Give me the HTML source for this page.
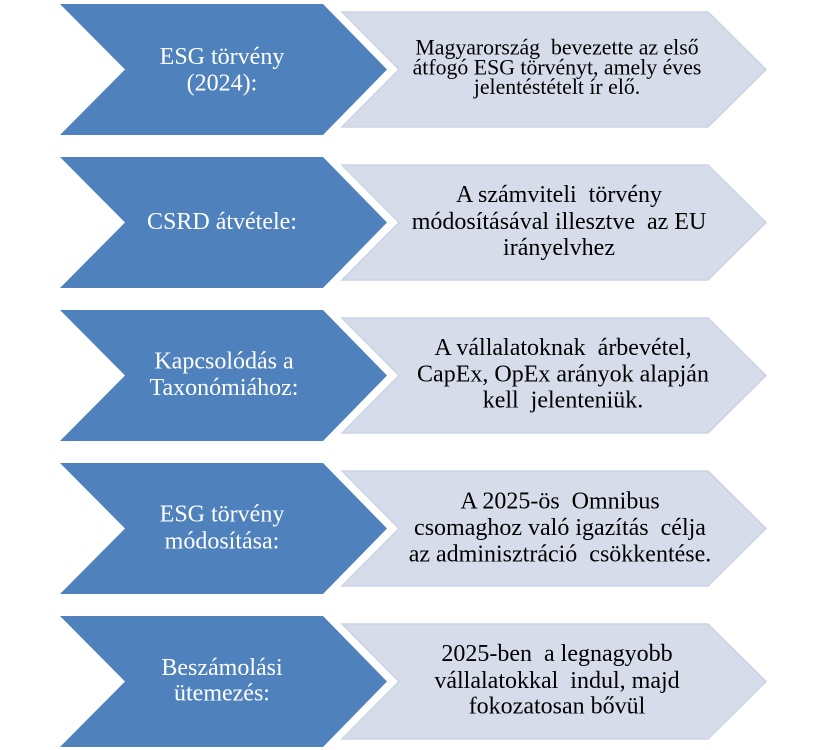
<!DOCTYPE html>
<html>
<head>
<meta charset="utf-8">
<style>
  html, body { margin: 0; padding: 0; background: #ffffff; }
  svg { display: block; }
  .b { fill: #4F81BD; }
  .g { fill: #D6DCE9; stroke: #CAD3E6; stroke-width: 1.5; }
  .wt { font-family: "Liberation Serif", "Times New Roman", serif; font-size: 24px; fill: #ffffff; white-space: pre; }
  .kt { font-family: "Liberation Serif", "Times New Roman", serif; font-size: 24px; fill: #000000; white-space: pre; }
  .k1 { font-size: 21.8px; }
</style>
</head>
<body>
<svg width="835" height="750" viewBox="0 0 835 750" xmlns="http://www.w3.org/2000/svg">
  <!-- Row 1 (y0=4) -->
  <polygon class="g" points="342,12 708,12 766,69.5 708,127 342,127 399,69.5"/>
  <polygon class="b" points="60,4 323,4 387,69.5 323,135 60,135 125,69.5"/>
  <text class="wt" x="222" y="64" text-anchor="middle">ESG törvény</text>
  <text class="wt" x="222" y="90.5" text-anchor="middle">(2024):</text>
  <text class="kt k1" x="557" y="54.3" text-anchor="middle">Magyarország  bevezette az első</text>
  <text class="kt k1" x="557" y="74.5" text-anchor="middle">átfogó ESG törvényt, amely éves</text>
  <text class="kt k1" x="557" y="94" text-anchor="middle">jelentéstételt ír elő.</text>

  <!-- Row 2 (y0=157) -->
  <polygon class="g" points="342,165 708,165 766,222.5 708,280 342,280 399,222.5"/>
  <polygon class="b" points="60,157 323,157 387,222.5 323,288 60,288 125,222.5"/>
  <text class="wt" x="222" y="229" text-anchor="middle">CSRD átvétele:</text>
  <text class="kt" x="559" y="202" text-anchor="middle">A számviteli  törvény</text>
  <text class="kt" x="559" y="229" text-anchor="middle">módosításával illesztve  az EU</text>
  <text class="kt" x="559" y="255" text-anchor="middle">irányelvhez</text>

  <!-- Row 3 (y0=310) -->
  <polygon class="g" points="342,318 708,318 766,375.5 708,433 342,433 399,375.5"/>
  <polygon class="b" points="60,310 323,310 387,375.5 323,441 60,441 125,375.5"/>
  <text class="wt" x="224" y="368.5" text-anchor="middle">Kapcsolódás a</text>
  <text class="wt" x="224" y="395" text-anchor="middle">Taxonómiához:</text>
  <text class="kt" x="563" y="355" text-anchor="middle">A vállalatoknak  árbevétel,</text>
  <text class="kt" x="563" y="381.7" text-anchor="middle">CapEx, OpEx arányok alapján</text>
  <text class="kt" x="563" y="407.5" text-anchor="middle">kell  jelenteniük.</text>

  <!-- Row 4 (y0=463) -->
  <polygon class="g" points="342,471 708,471 766,528.5 708,586 342,586 399,528.5"/>
  <polygon class="b" points="60,463 323,463 387,528.5 323,594 60,594 125,528.5"/>
  <text class="wt" x="222" y="521.7" text-anchor="middle">ESG törvény</text>
  <text class="wt" x="222" y="548.3" text-anchor="middle">módosítása:</text>
  <text class="kt" x="560" y="508.3" text-anchor="middle">A 2025-ös  Omnibus</text>
  <text class="kt" x="560" y="535" text-anchor="middle">csomaghoz való igazítás  célja</text>
  <text class="kt" x="560" y="561.7" text-anchor="middle">az adminisztráció  csökkentése.</text>

  <!-- Row 5 (y0=616) -->
  <polygon class="g" points="342,624 708,624 766,681.5 708,739 342,739 399,681.5"/>
  <polygon class="b" points="60,616 323,616 387,681.5 323,747 60,747 125,681.5"/>
  <text class="wt" x="222" y="675" text-anchor="middle">Beszámolási</text>
  <text class="wt" x="222" y="700.7" text-anchor="middle">ütemezés:</text>
  <text class="kt" x="557" y="661" text-anchor="middle">2025-ben  a legnagyobb</text>
  <text class="kt" x="557" y="688" text-anchor="middle">vállalatokkal  indul, majd</text>
  <text class="kt" x="557" y="713.7" text-anchor="middle">fokozatosan bővül</text>
</svg>
</body>
</html>
